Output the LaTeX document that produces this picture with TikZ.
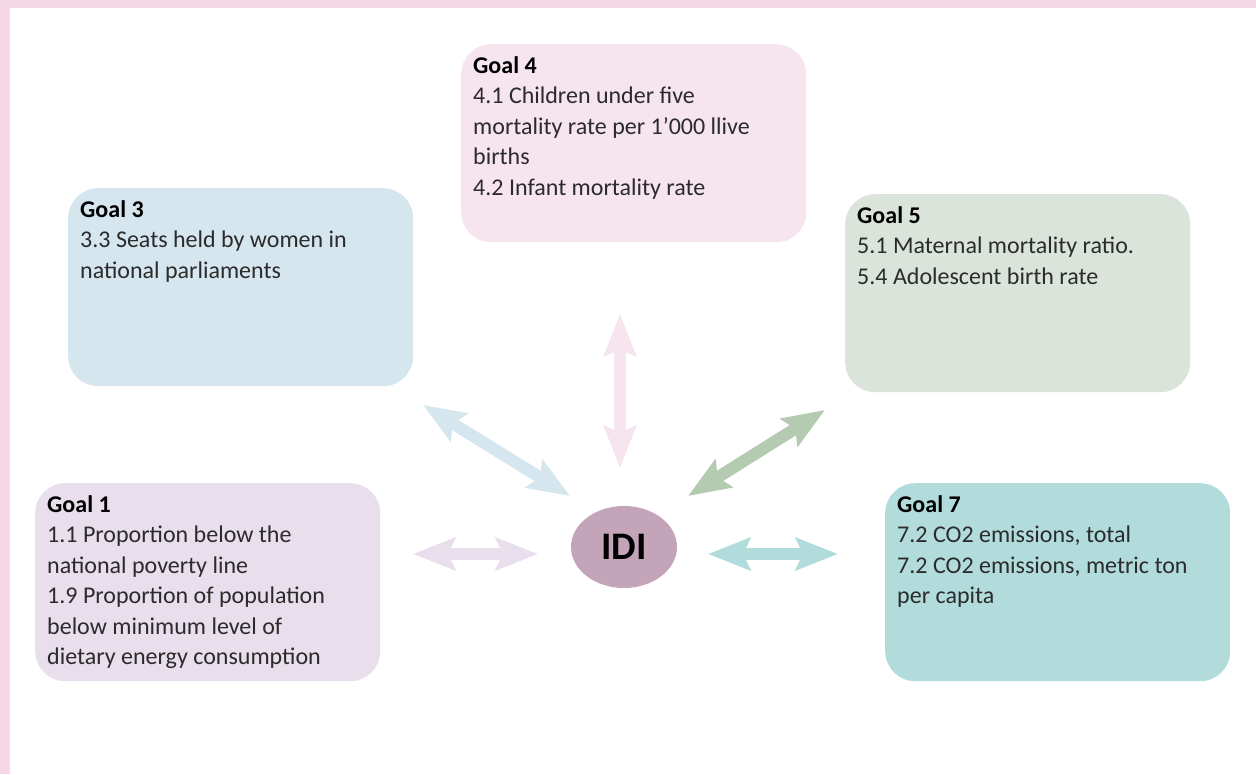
\documentclass[tikz,border=0pt]{standalone}
\usepackage{fontspec}
\setmainfont{Carlito}
\usetikzlibrary{shapes.geometric,arrows.meta}
\definecolor{framepink}{HTML}{F6D7E6}
\definecolor{goalfour}{HTML}{F6E5EE}
\definecolor{goalthree}{HTML}{D6E6EE}
\definecolor{goalfive}{HTML}{DBE4DA}
\definecolor{goalfivearr}{HTML}{B5CBB1}
\definecolor{goalone}{HTML}{E8DEEC}
\definecolor{goalseven}{HTML}{B2DCDB}
\definecolor{idicol}{HTML}{C3A4B9}
\definecolor{txtgray}{HTML}{2B2B2B}
\newcommand{\goaltext}[2]{\parbox[t][174pt][t]{321pt}{\raggedright\textbf{\color{black}#1}\\#2}}
\begin{document}
\begin{tikzpicture}[x=1pt, y=-1pt,
    goal/.style={rounded corners=30pt, inner xsep=12pt, inner ysep=12pt, anchor=north west,
        text=txtgray, font=\fontsize{24}{30.5}\selectfont},
    link/.style={line width=12pt,
        {Stealth[length=42pt,width=32pt,inset=7pt]}-{Stealth[length=42pt,width=32pt,inset=7pt]}}]
    % Frame
    \fill[framepink] (0,0) rectangle (1256,774);
    \fill[white] (10,8) rectangle (1256,774);

    % Goals
    \node[goal, fill=goalfour] (g4) at (461,44) {\goaltext{Goal 4}{4.1 Children under five\\mortality rate per 1’000 llive\\births\\4.2 Infant mortality rate}};
    \node[goal, fill=goalthree] (g3) at (68,188) {\goaltext{Goal 3}{3.3 Seats held by women in\\national parliaments}};
    \node[goal, fill=goalfive] (g5) at (845,194) {\goaltext{Goal 5}{5.1 Maternal mortality ratio.\\5.4 Adolescent birth rate}};
    \node[goal, fill=goalone] (g1) at (35,483) {\goaltext{Goal 1}{1.1 Proportion below the\\national poverty line\\1.9 Proportion of population\\below minimum level of\\dietary energy consumption}};
    \node[goal, fill=goalseven] (g7) at (885,483) {\goaltext{Goal 7}{7.2 CO2 emissions, total\\7.2 CO2 emissions, metric ton\\per capita}};

    % Centre
    \node[ellipse, fill=idicol, minimum width=106pt, minimum height=82pt, inner sep=0pt,
        font=\fontsize{39}{39}\bfseries\selectfont] (idi) at (624,547) {IDI};

    % Arrows
    \coordinate (a4t) at (620,314);
    \coordinate (a4b) at (620,468);
    \coordinate (a3t) at (423,405);
    \coordinate (a3b) at (570,496);
    \coordinate (a5t) at (825,410);
    \coordinate (a5b) at (688,496);
    \coordinate (a1l) at (413,554);
    \coordinate (a1r) at (538,554);
    \coordinate (a7l) at (708,554);
    \coordinate (a7r) at (838,554);
    \draw[link, goalfour] (a4t) -- (a4b);
    \draw[link, goalthree] (a3t) -- (a3b);
    \draw[link, goalfivearr] (a5t) -- (a5b);
    \draw[link, goalone] (a1l) -- (a1r);
    \draw[link, goalseven] (a7l) -- (a7r);
\end{tikzpicture}
\end{document}
